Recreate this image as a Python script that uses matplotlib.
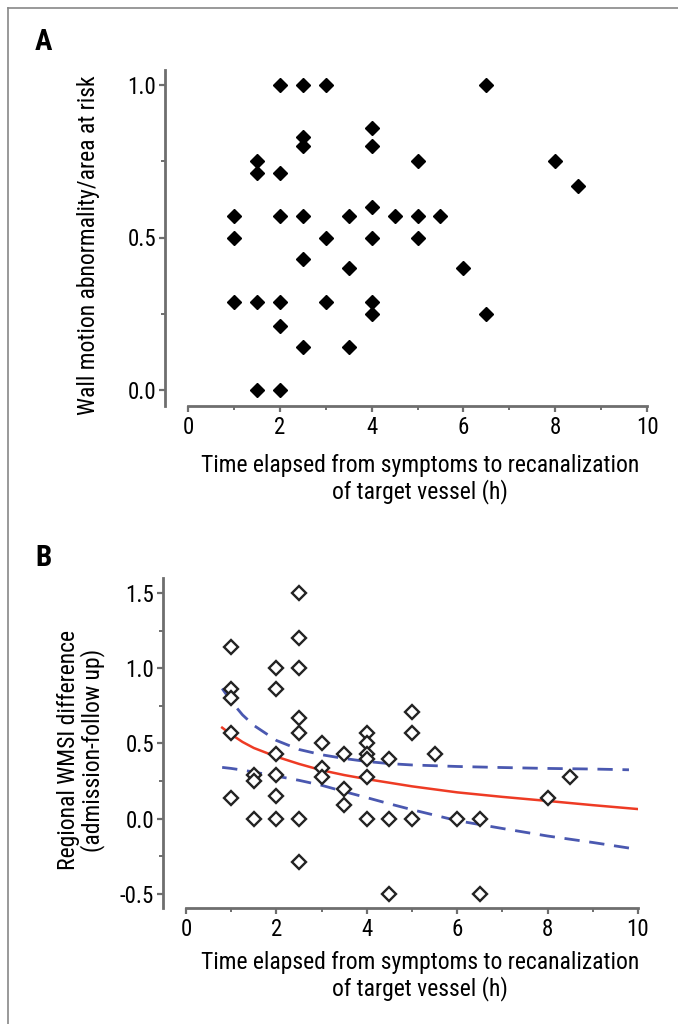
import numpy as np
import matplotlib
matplotlib.use("Agg")
import matplotlib.pyplot as plt
from matplotlib.lines import Line2D
from matplotlib.ticker import MultipleLocator

plt.rcParams['font.family'] = ['Liberation Sans Narrow', 'Roboto Condensed', 'Roboto', 'DejaVu Sans']

W, H = 678, 1024

# panel A: wall motion abnormality / area at risk
a_time = [1, 1, 1,
          1.5, 1.5, 1.5, 1.5,
          2, 2, 2, 2, 2, 2,
          2.5, 2.5, 2.5, 2.5, 2.5, 2.5,
          3, 3, 3,
          3.5, 3.5, 3.5,
          4, 4, 4, 4, 4, 4,
          4.5,
          5, 5, 5,
          5.5,
          6,
          6.5, 6.5,
          8,
          8.5]
a_value = [0.57, 0.5, 0.29,
           0.75, 0.71, 0.29, 0.0,
           1.0, 0.71, 0.57, 0.29, 0.21, 0.0,
           1.0, 0.83, 0.8, 0.57, 0.43, 0.14,
           1.0, 0.5, 0.29,
           0.57, 0.4, 0.14,
           0.86, 0.8, 0.6, 0.5, 0.29, 0.25,
           0.57,
           0.75, 0.57, 0.5,
           0.57,
           0.4,
           1.0, 0.25,
           0.75,
           0.67]

# panel B: regional WMSI difference
b_time = [1, 1, 1, 1, 1,
          1.5, 1.5, 1.5,
          2, 2, 2, 2, 2, 2,
          2.5, 2.5, 2.5, 2.5, 2.5, 2.5, 2.5,
          3, 3, 3,
          3.5, 3.5, 3.5,
          4, 4, 4, 4, 4, 4,
          4.5, 4.5, 4.5,
          5, 5, 5,
          5.5,
          6,
          6.5, 6.5,
          8,
          8.5]
b_value = [1.14, 0.86, 0.8, 0.57, 0.14,
           0.29, 0.25, 0.0,
           1.0, 0.86, 0.43, 0.29, 0.15, 0.0,
           1.5, 1.2, 1.0, 0.67, 0.57, 0.0, -0.29,
           0.5, 0.34, 0.28,
           0.43, 0.2, 0.09,
           0.57, 0.5, 0.43, 0.4, 0.28, 0.0,
           0.4, 0.0, -0.5,
           0.71, 0.57, 0.0,
           0.43,
           0.0,
           0.0, -0.5,
           0.14,
           0.28]

# fitted curve and confidence band
fit_time = [0.8, 1, 1.25, 1.5, 2, 2.5, 3, 3.5, 4, 5, 6, 7, 8, 9, 10]
fit_value = [0.605, 0.56, 0.51, 0.47, 0.412, 0.364, 0.322, 0.29, 0.263, 0.215, 0.175, 0.145, 0.118, 0.09, 0.064]
ci_time = [0.8, 1, 1.25, 1.5, 2, 2.5, 3, 3.5, 4, 4.5, 5, 6, 7, 8, 9, 9.8]
ci_upper = [0.865, 0.78, 0.69, 0.62, 0.52, 0.46, 0.425, 0.40, 0.38, 0.366, 0.357, 0.347, 0.34, 0.334, 0.33, 0.325]
ci_lower = [0.341, 0.334, 0.323, 0.31, 0.283, 0.255, 0.222, 0.18, 0.14, 0.099, 0.06, -0.013, -0.065, -0.115, -0.158, -0.195]

x_ticks = [0, 2, 4, 6, 8, 10]
a_yticks = [0.0, 0.5, 1.0]
b_yticks = [-0.5, 0.0, 0.5, 1.0, 1.5]

xlabel = "Time elapsed from symptoms to recanalization\nof target vessel (h)"

spine_col = "#6e6e6e"
fs = 17
tfs = 16.5


def px_axes(left, top, right, bottom):
    return fig.add_axes([left / W, 1 - bottom / H, (right - left) / W, (bottom - top) / H])


def style_axes(ax, yticks, yminor):
    for s in ["top", "right"]:
        ax.spines[s].set_visible(False)
    for s in ["left", "bottom"]:
        ax.spines[s].set_color(spine_col)
        ax.spines[s].set_linewidth(2)
    ax.spines["left"].set_position(("outward", 16.5))
    ax.set_xlim(0, 10)
    ax.set_xticks(x_ticks)
    ax.xaxis.set_minor_locator(MultipleLocator(1))
    ax.set_yticks(yticks)
    ax.set_yticklabels(["%.1f" % v for v in yticks])
    ax.yaxis.set_minor_locator(MultipleLocator(yminor))
    ax.tick_params(which="major", length=4.5, width=1.6, color=spine_col, labelsize=tfs, pad=2)
    ax.tick_params(which="minor", length=3, width=1.4, color=spine_col)
    ax.tick_params(axis="x", which="major", pad=3)
    ax.patch.set_visible(False)


fig = plt.figure(figsize=(W / 100, H / 100), dpi=100)

# frame lines at top and left
fig.add_artist(Line2D([8 / W, 1], [1 - 8 / H, 1 - 8 / H], color="#888888", lw=1.2))
fig.add_artist(Line2D([8 / W, 8 / W], [1 - 8 / H, 0], color="#888888", lw=1.2))

# panel A
axA = px_axes(188, 70, 647, 406)
style_axes(axA, a_yticks, 0.25)
axA.set_ylim((390 - 406) / 305, (390 - 70) / 305)
axA.plot(a_time, a_value, ls="none", marker="D", ms=6.8, color="black", clip_on=False)
fig.text(35 / W, 1 - 42 / H, "A", fontsize=21, fontweight="bold", ha="left", va="center")
fig.text(89 / W, 1 - 245 / H, "Wall motion abnormality/area at risk", fontsize=fs,
         rotation=90, ha="center", va="center")
fig.text(420 / W, 1 - 479 / H, xlabel, fontsize=fs, ha="center", va="center",
         multialignment="center", linespacing=1.1)

# panel B
axB = px_axes(186, 578, 638, 908)
style_axes(axB, b_yticks, 0.25)
axB.set_ylim((818.7 - 908) / 150.5, (818.7 - 578) / 150.5)
axB.plot(ci_time, ci_upper, color="#4a58b0", lw=2, dashes=(5.5, 3.5))
axB.plot(ci_time, ci_lower, color="#4a58b0", lw=2, dashes=(5.5, 3.5))
axB.plot(fit_time, fit_value, color="#ee3b24", lw=1.8)
axB.plot(b_time, b_value, ls="none", marker="D", ms=6.8, mfc="white", mec="#222222",
         mew=1.7, clip_on=False)
fig.text(35 / W, 1 - 558 / H, "B", fontsize=21, fontweight="bold", ha="left", va="center")
fig.text(81 / W, 1 - 750 / H, "Regional WMSI difference\n(admission-follow up)", fontsize=fs,
         rotation=90, ha="center", va="center", multialignment="center", linespacing=1.0)
fig.text(420 / W, 1 - 976 / H, xlabel, fontsize=fs, ha="center", va="center",
         multialignment="center", linespacing=1.1)

fig.savefig("out.png", dpi=100)
